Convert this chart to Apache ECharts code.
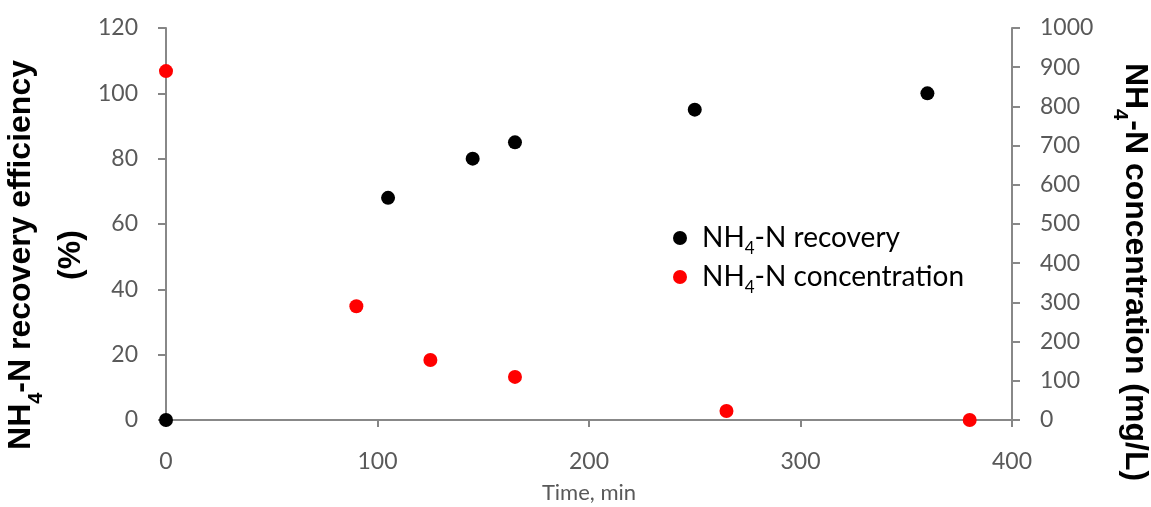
<!DOCTYPE html>
<html><head><meta charset="utf-8">
<script src="https://cdn.jsdelivr.net/npm/echarts@6/dist/echarts.min.js"></script>
<style>html,body{margin:0;padding:0;background:#fff}#c{width:1151px;height:507px}</style>
</head><body><div id="c"></div>
<script>
const recoveryTime = [0, 105, 145, 165, 250, 360];
const recoveryValue = [0, 68, 80, 85, 95, 100];
const concTime = [0, 90, 125, 165, 265, 380];
const concValue = [890, 290, 153, 110, 23, 0];

const chart = echarts.init(document.getElementById('c'));
const axisGray = '#888888';
const labelGray = '#595959';
const tickFont = 'Lato, "Liberation Sans", sans-serif';
const titleRich = {
  b: {fontFamily: '"Liberation Sans", Arial, sans-serif', fontWeight: 'bold', fontSize: 32, color: '#000', lineHeight: 50},
  s: {fontFamily: '"Liberation Sans", Arial, sans-serif', fontWeight: 'bold', fontSize: 20, color: '#000', verticalAlign: 'bottom', lineHeight: 38}
};
const legRich = {
  a: {fontFamily: tickFont, fontSize: 28, color: '#000'},
  s: {fontFamily: tickFont, fontSize: 17, color: '#000', verticalAlign: 'bottom', lineHeight: 38}
};
const tickLabel = () => ({margin: 28, fontFamily: tickFont, fontSize: 23, color: labelGray, formatter: v => String(v)});
chart.setOption({
  animation: false,
  grid: {left: 166, right: 139, top: 28, bottom: 87, outerBoundsMode: 'none', containLabel: false},
  legend: {
    orient: 'vertical', left: 668, top: 219, itemGap: 6,
    itemWidth: 14, itemHeight: 14,
    data: [{name: 'rec', icon: 'circle'}, {name: 'conc', icon: 'circle'}],
    formatter: n => n === 'rec' ? '{a|NH}{s|4}{a|-N recovery}' : '{a|NH}{s|4}{a|-N concentration}',
    textStyle: {rich: legRich, padding: [0, 0, 0, 10]}
  },
  xAxis: [{
    type: 'value', min: 0, max: 400, interval: 100,
    name: 'Time, min', nameLocation: 'middle', nameGap: 62,
    nameTextStyle: {fontFamily: tickFont, fontSize: 22, color: labelGray},
    axisLine: {show: true, lineStyle: {color: axisGray, width: 2}},
    axisTick: {show: true, interval: 0, length: 7, lineStyle: {color: '#858585', width: 2}},
    axisLabel: Object.assign(tickLabel(), {margin: 30}),
    splitLine: {show: false}
  }, {
    type: 'value', position: 'top', min: 0, max: 400,
    axisLine: {show: true, lineStyle: {color: axisGray, width: 2}},
    axisTick: {show: false}, axisLabel: {show: false}, splitLine: {show: false}
  }],
  yAxis: [{
    type: 'value', min: 0, max: 120, interval: 20, position: 'left',
    name: '{b|NH}{s|4}{b|-N recovery efficiency}\n{b|(%)}',
    nameLocation: 'middle', nameGap: 56, nameRotate: 90,
    nameTextStyle: {rich: titleRich, align: 'center', padding: [0, 62, 0, 0]},
    axisLine: {show: true, lineStyle: {color: axisGray, width: 2}},
    axisTick: {show: true, interval: 0, length: 8, lineStyle: {color: '#858585', width: 2}},
    axisLabel: tickLabel(),
    splitLine: {show: false}
  }, {
    type: 'value', min: 0, max: 1000, interval: 100, position: 'right',
    name: '{b|NH}{s|4}{b|-N concentration (mg/L)}',
    nameLocation: 'middle', nameGap: 98, nameRotate: -90, nameMoveOverlap: false,
    nameTextStyle: {rich: titleRich, align: 'center', padding: [0, 0, 0, 96]},
    axisLine: {show: true, onZero: false, lineStyle: {color: axisGray, width: 2}},
    axisTick: {show: true, length: 8, lineStyle: {color: axisGray, width: 2}},
    axisLabel: tickLabel(),
    splitLine: {show: false}
  }],
  series: [{
    name: 'rec', type: 'scatter', xAxisIndex: 0, yAxisIndex: 0,
    symbolSize: 14, itemStyle: {color: '#000', opacity: 1},
    data: recoveryTime.map((t, i) => [t, recoveryValue[i]]), z: 3
  }, {
    name: 'conc', type: 'scatter', xAxisIndex: 0, yAxisIndex: 1,
    symbolSize: 14, itemStyle: {color: '#ff0000', opacity: 1},
    data: concTime.map((t, i) => [t, concValue[i]]), z: 4
  }]
});
</script>
</body></html>
